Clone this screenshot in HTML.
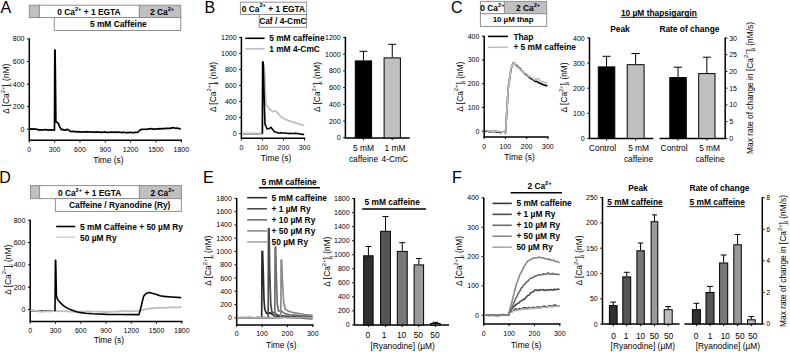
<!DOCTYPE html>
<html><head><meta charset="utf-8"><style>
html,body{margin:0;padding:0;background:#fff;}
svg{display:block;font-family:"Liberation Sans", sans-serif;}
</style></head><body>
<svg width="790" height="352" viewBox="0 0 790 352">
<text x="0.6" y="12.6" font-size="16">A</text>
<rect x="29.3" y="5.2" width="10.1" height="12.3" fill="#c0c0c0" stroke="#8f8f8f" stroke-width="1"/>
<rect x="39.4" y="5.2" width="100" height="12.3" fill="#fff" stroke="#8f8f8f" stroke-width="1"/>
<rect x="139.4" y="5.2" width="41.4" height="12.3" fill="#c0c0c0" stroke="#8f8f8f" stroke-width="1"/>
<rect x="54.3" y="17.5" width="126.5" height="13" fill="#fff" stroke="#8f8f8f" stroke-width="1"/>
<text x="88.9" y="14.9" font-size="8.4" font-weight="bold" text-anchor="middle">0 Ca<tspan font-size="5.71" dy="-4.37">2+</tspan><tspan dy="4.37"> + 1 EGTA</tspan></text>
<text x="162.1" y="14.9" font-size="8.4" font-weight="bold" text-anchor="middle">2 Ca<tspan font-size="5.71" dy="-4.37">2+</tspan></text>
<text x="118.3" y="27.3" font-size="8.4" font-weight="bold" text-anchor="middle">5 mM Caffeine</text>
<line x1="29.3" y1="38.4" x2="29.3" y2="140" stroke="#000" stroke-width="1.5"/>
<line x1="27.1" y1="38.9" x2="29.3" y2="38.9" stroke="#000" stroke-width="1"/>
<text x="24.5" y="41.4" font-size="7" text-anchor="end">800</text>
<line x1="27.1" y1="61.5" x2="29.3" y2="61.5" stroke="#000" stroke-width="1"/>
<text x="24.5" y="64" font-size="7" text-anchor="end">600</text>
<line x1="27.1" y1="84.2" x2="29.3" y2="84.2" stroke="#000" stroke-width="1"/>
<text x="24.5" y="86.7" font-size="7" text-anchor="end">400</text>
<line x1="27.1" y1="106.6" x2="29.3" y2="106.6" stroke="#000" stroke-width="1"/>
<text x="24.5" y="109.1" font-size="7" text-anchor="end">200</text>
<line x1="27.1" y1="129.2" x2="29.3" y2="129.2" stroke="#000" stroke-width="1"/>
<text x="24.5" y="131.7" font-size="7" text-anchor="end">0</text>
<line x1="28.6" y1="140.3" x2="182" y2="140.3" stroke="#000" stroke-width="1.5"/>
<line x1="29.3" y1="140.3" x2="29.3" y2="142.5" stroke="#000" stroke-width="1"/>
<text x="29.3" y="151.9" font-size="7" text-anchor="middle">0</text>
<line x1="54.63" y1="140.3" x2="54.63" y2="142.5" stroke="#000" stroke-width="1"/>
<text x="54.63" y="151.9" font-size="7" text-anchor="middle">300</text>
<line x1="79.96" y1="140.3" x2="79.96" y2="142.5" stroke="#000" stroke-width="1"/>
<text x="79.96" y="151.9" font-size="7" text-anchor="middle">600</text>
<line x1="105.29" y1="140.3" x2="105.29" y2="142.5" stroke="#000" stroke-width="1"/>
<text x="105.29" y="151.9" font-size="7" text-anchor="middle">900</text>
<line x1="130.62" y1="140.3" x2="130.62" y2="142.5" stroke="#000" stroke-width="1"/>
<text x="130.62" y="151.9" font-size="7" text-anchor="middle">1200</text>
<line x1="155.95" y1="140.3" x2="155.95" y2="142.5" stroke="#000" stroke-width="1"/>
<text x="155.95" y="151.9" font-size="7" text-anchor="middle">1500</text>
<line x1="181.28" y1="140.3" x2="181.28" y2="142.5" stroke="#000" stroke-width="1"/>
<text x="181.28" y="151.9" font-size="7" text-anchor="middle">1800</text>
<text x="108.4" y="162.6" font-size="8.4" text-anchor="middle">Time (s)</text>
<text x="9.5" y="88.7" font-size="8.4" text-anchor="middle" transform="rotate(-90 9.5 88.7)">Δ [Ca<tspan font-size="5.71" dy="-4.37">2+</tspan><tspan dy="4.37">]</tspan><tspan font-size="5.21" dy="2.1">i</tspan><tspan dy="-2.1"> (nM)</tspan></text>
<polyline points="29.8,129.11 30.87,128.96 31.93,129.14 33,128.79 34,129.12 35,129.13 36,129.08 37.13,129.57 38.27,129.6 39.4,130.07 40.52,129.82 41.64,129.78 42.76,129.88 43.88,130.02 45,129.61 46,129.68 47,129.9 48,130.08 49,129.92 50,129.85 51.08,130.19 52.15,129.77 53.22,130.23 54.3,130.1 54.5,130 54.8,50.1 55.1,50.1 55.9,122.07 57,122.29 58.1,123.07 59.5,126.39 60.5,128.34 61.5,129.61 63,129.45 64,129.88 65,130.12 66,129.93 67,129.34 68.9,130.04 70,131.22 71,131.55 72,131.44 73,131.41 74,131.61 75,131.57 76,131.52 77,131.86 78,131.84 79,131.61 80,131.84 81,131.84 82,132.07 83,132 84,131.75 85,132.19 86,131.69 87,131.89 88,132.11 89,131.77 90,131.99 91,131.73 92,132.12 93,132.19 94,132.08 95,132.28 96,131.95 97,132.19 98,132.14 99,132.14 100,132.07 101,132.32 102,132.4 103,132.13 104,132.26 105,131.91 106,132.31 107,132.29 108,132.52 109,132.43 110,132.12 111,132.2 112,132.38 113,132.01 114,132.29 115,132.13 116,132.11 117,132.09 118,132.53 119,132.16 120,132.25 121.04,132.35 122.08,132.65 123.12,132.18 124.16,132.42 125.21,132.49 126.25,132.7 127.29,132.67 128.33,132.71 129.37,132.37 130.41,132.47 131.45,132.44 132.49,132.77 133.54,132.83 134.58,132.36 135.62,132.38 136.66,132.43 137.7,132.44 138.75,131.24 139.8,129.95 140.84,129.62 141.88,129.32 142.92,129.43 143.96,129.26 145,129.24 146.12,129.39 147.24,129.15 148.36,128.97 149.48,128.95 150.6,128.91 151.64,128.54 152.69,129.06 153.73,129 154.78,129.07 155.82,129.03 156.87,128.8 157.91,128.82 158.96,128.65 160,128.98 161,128.61 162,128.58 163,128.64 164,128.58 165,128.65 166,128.45 167,128.39 168,128.45 169,128.39 170,128.52 171.07,127.95 172.13,128.09 173.2,127.57 175,128.29 176,128.2 177,128.11 178.23,128.45 179.47,128.64 180.7,129.2" fill="none" stroke="#000" stroke-width="1.7" stroke-linejoin="round"/>
<text x="204.4" y="12.6" font-size="16">B</text>
<rect x="240.4" y="2.2" width="66.2" height="12.3" fill="#fff" stroke="#8f8f8f" stroke-width="1"/>
<rect x="259.2" y="14.5" width="47.4" height="12.8" fill="#fff" stroke="#8f8f8f" stroke-width="1"/>
<text x="273.4" y="11.8" font-size="8.4" font-weight="bold" text-anchor="middle">0 Ca<tspan font-size="5.71" dy="-4.37">2+</tspan><tspan dy="4.37"> + 1 EGTA</tspan></text>
<text x="282.9" y="24.1" font-size="8.4" font-weight="bold" text-anchor="middle">Caf / 4-CmC</text>
<line x1="241.4" y1="36.9" x2="241.4" y2="138.2" stroke="#000" stroke-width="1.5"/>
<line x1="239.2" y1="37.4" x2="241.4" y2="37.4" stroke="#000" stroke-width="1"/>
<text x="236.6" y="39.9" font-size="7" text-anchor="end">1200</text>
<line x1="239.2" y1="53.4" x2="241.4" y2="53.4" stroke="#000" stroke-width="1"/>
<text x="236.6" y="55.9" font-size="7" text-anchor="end">1000</text>
<line x1="239.2" y1="69.4" x2="241.4" y2="69.4" stroke="#000" stroke-width="1"/>
<text x="236.6" y="71.9" font-size="7" text-anchor="end">800</text>
<line x1="239.2" y1="85.4" x2="241.4" y2="85.4" stroke="#000" stroke-width="1"/>
<text x="236.6" y="87.9" font-size="7" text-anchor="end">600</text>
<line x1="239.2" y1="101.4" x2="241.4" y2="101.4" stroke="#000" stroke-width="1"/>
<text x="236.6" y="103.9" font-size="7" text-anchor="end">400</text>
<line x1="239.2" y1="117.4" x2="241.4" y2="117.4" stroke="#000" stroke-width="1"/>
<text x="236.6" y="119.9" font-size="7" text-anchor="end">200</text>
<line x1="239.2" y1="133.4" x2="241.4" y2="133.4" stroke="#000" stroke-width="1"/>
<text x="236.6" y="135.9" font-size="7" text-anchor="end">0</text>
<line x1="240.7" y1="138.2" x2="305.2" y2="138.2" stroke="#000" stroke-width="1.5"/>
<line x1="241.4" y1="138.2" x2="241.4" y2="140.4" stroke="#000" stroke-width="1"/>
<text x="241.4" y="150" font-size="7" text-anchor="middle">0</text>
<line x1="262.43" y1="138.2" x2="262.43" y2="140.4" stroke="#000" stroke-width="1"/>
<text x="262.43" y="150" font-size="7" text-anchor="middle">100</text>
<line x1="283.46" y1="138.2" x2="283.46" y2="140.4" stroke="#000" stroke-width="1"/>
<text x="283.46" y="150" font-size="7" text-anchor="middle">200</text>
<line x1="304.49" y1="138.2" x2="304.49" y2="140.4" stroke="#000" stroke-width="1"/>
<text x="304.49" y="150" font-size="7" text-anchor="middle">300</text>
<text x="276" y="160.6" font-size="8.4" text-anchor="middle">Time (s)</text>
<text x="215.8" y="87.05" font-size="8.4" text-anchor="middle" transform="rotate(-90 215.8 87.05)">Δ [Ca<tspan font-size="5.71" dy="-4.37">2+</tspan><tspan dy="4.37">]</tspan><tspan font-size="5.21" dy="2.1">i</tspan><tspan dy="-2.1"> (nM)</tspan></text>
<line x1="245.3" y1="38.3" x2="264.6" y2="38.3" stroke="#000" stroke-width="1.6"/>
<line x1="245.3" y1="48.9" x2="264.6" y2="48.9" stroke="#bdbdbd" stroke-width="1.6"/>
<text x="269.2" y="41.2" font-size="8.4" font-weight="bold">5 mM caffeine</text>
<text x="269.2" y="51.8" font-size="8.4" font-weight="bold">1 mM 4-CmC</text>
<polyline points="241.8,133.7 262.4,133.7" fill="none" stroke="#000" stroke-width="1.6" stroke-linejoin="round"/>
<polyline points="241.8,133.74 242.83,133.81 243.85,133.61 244.88,133.63 245.9,133.48 246.93,133.5 247.95,133.61 248.97,133.59 250,133.83 251,133.56 252,133.51 253,133.88 254,133.71 255,133.56 256,133.72 257,133.51 258,133.71 259,133.89 260,133.85 261,133.78 262,133.7 262.3,133.7 262.9,66.5 264.2,65.5 265.2,88 265.9,104 267.8,107.1 270,109.5 272.9,111.6 274.5,111 276.1,111.2 278,113.5 281.9,117.6 288.2,120.6 297.2,123.4 304.2,125.7" fill="none" stroke="#bdbdbd" stroke-width="1.7" stroke-linejoin="round"/>
<polyline points="262.4,133.7 262.6,62 263.2,62 264.2,99.88 265,124.33 266.05,126.48 267.1,129.04 269,128.42 270,128.04 271,127.31 272.5,129.36 274.2,131.56 275.47,132.08 276.73,132.44 278,132.85 279,132.94 280,132.98 281,132.8 282,133.02 283,133.02 284,132.93 285,133.01 286,133.21 287,133.28 288.07,133.48 289.13,133.59 290.2,133.32 291.27,133.55 292.33,133.56 293.4,133.53 294.55,133.36 295.7,133.41 296.85,133.54 298,133.65 299.03,133.75 300.07,134.06 301.1,134.3 302.13,134.37 303.17,134.29 304.2,134.4" fill="none" stroke="#000" stroke-width="1.6" stroke-linejoin="round"/>
<line x1="345.4" y1="36.9" x2="345.4" y2="137.9" stroke="#000" stroke-width="1.5"/>
<line x1="343.2" y1="37.4" x2="345.4" y2="37.4" stroke="#000" stroke-width="1"/>
<text x="340.6" y="39.9" font-size="7" text-anchor="end">1200</text>
<line x1="343.2" y1="54.13" x2="345.4" y2="54.13" stroke="#000" stroke-width="1"/>
<text x="340.6" y="56.63" font-size="7" text-anchor="end">1000</text>
<line x1="343.2" y1="70.86" x2="345.4" y2="70.86" stroke="#000" stroke-width="1"/>
<text x="340.6" y="73.36" font-size="7" text-anchor="end">800</text>
<line x1="343.2" y1="87.59" x2="345.4" y2="87.59" stroke="#000" stroke-width="1"/>
<text x="340.6" y="90.09" font-size="7" text-anchor="end">600</text>
<line x1="343.2" y1="104.32" x2="345.4" y2="104.32" stroke="#000" stroke-width="1"/>
<text x="340.6" y="106.82" font-size="7" text-anchor="end">400</text>
<line x1="343.2" y1="121.05" x2="345.4" y2="121.05" stroke="#000" stroke-width="1"/>
<text x="340.6" y="123.55" font-size="7" text-anchor="end">200</text>
<line x1="343.2" y1="137.78" x2="345.4" y2="137.78" stroke="#000" stroke-width="1"/>
<text x="340.6" y="140.28" font-size="7" text-anchor="end">0</text>
<line x1="344.7" y1="137.9" x2="409.7" y2="137.9" stroke="#000" stroke-width="1.5"/>
<line x1="363.4" y1="137.9" x2="363.4" y2="140.1" stroke="#000" stroke-width="1"/>
<line x1="392.2" y1="137.9" x2="392.2" y2="140.1" stroke="#000" stroke-width="1"/>
<line x1="363.45" y1="51.3" x2="363.45" y2="60.4" stroke="#000" stroke-width="1"/>
<line x1="359.47" y1="51.3" x2="367.43" y2="51.3" stroke="#000" stroke-width="1"/>
<rect x="355.3" y="60.9" width="16.3" height="77" fill="#000" stroke="#000" stroke-width="1"/>
<line x1="392.25" y1="44.3" x2="392.25" y2="57.4" stroke="#000" stroke-width="1"/>
<line x1="388.27" y1="44.3" x2="396.23" y2="44.3" stroke="#000" stroke-width="1"/>
<rect x="384.1" y="57.9" width="16.3" height="80" fill="#c0c0c0" stroke="#000" stroke-width="1"/>
<text x="363.5" y="150.8" font-size="8.4" text-anchor="middle">5 mM</text>
<text x="363.5" y="161.9" font-size="8.4" text-anchor="middle">caffeine</text>
<text x="395" y="150.8" font-size="8.4" text-anchor="middle">1 mM</text>
<text x="394.8" y="161.9" font-size="8.4" text-anchor="middle">4-CmC</text>
<text x="319.9" y="86.9" font-size="8.4" text-anchor="middle" transform="rotate(-90 319.9 86.9)">Δ [Ca<tspan font-size="5.71" dy="-4.37">2+</tspan><tspan dy="4.37">]</tspan><tspan font-size="5.21" dy="2.1">i</tspan><tspan dy="-2.1"> (nM)</tspan></text>
<text x="451" y="12.9" font-size="16">C</text>
<rect x="480.4" y="1.4" width="24" height="12.3" fill="#fff" stroke="#8f8f8f" stroke-width="1"/>
<text x="492.4" y="10.9" font-size="8.4" font-weight="bold" text-anchor="middle">0 Ca<tspan font-size="5.71" dy="-4.37">2+</tspan></text>
<rect x="504.4" y="1.4" width="42.3" height="12.3" fill="#c0c0c0" stroke="#8f8f8f" stroke-width="1"/>
<rect x="480.4" y="13.7" width="66.3" height="12.7" fill="#fff" stroke="#8f8f8f" stroke-width="1"/>
<text x="528.1" y="10.9" font-size="8.4" font-weight="bold" text-anchor="middle">2 Ca<tspan font-size="5.71" dy="-4.37">2+</tspan></text>
<text x="513.1" y="22.4" font-size="7.9" font-weight="bold" text-anchor="middle">10 µM thap</text>
<line x1="484.2" y1="35.7" x2="484.2" y2="136.9" stroke="#000" stroke-width="1.5"/>
<line x1="482" y1="36.2" x2="484.2" y2="36.2" stroke="#000" stroke-width="1"/>
<text x="479.4" y="38.7" font-size="7" text-anchor="end">400</text>
<line x1="482" y1="59.93" x2="484.2" y2="59.93" stroke="#000" stroke-width="1"/>
<text x="479.4" y="62.43" font-size="7" text-anchor="end">300</text>
<line x1="482" y1="83.66" x2="484.2" y2="83.66" stroke="#000" stroke-width="1"/>
<text x="479.4" y="86.16" font-size="7" text-anchor="end">200</text>
<line x1="482" y1="107.39" x2="484.2" y2="107.39" stroke="#000" stroke-width="1"/>
<text x="479.4" y="109.89" font-size="7" text-anchor="end">100</text>
<line x1="482" y1="131.12" x2="484.2" y2="131.12" stroke="#000" stroke-width="1"/>
<text x="479.4" y="133.62" font-size="7" text-anchor="end">0</text>
<line x1="483.5" y1="136.9" x2="548.6" y2="136.9" stroke="#000" stroke-width="1.5"/>
<line x1="484.2" y1="136.9" x2="484.2" y2="139.1" stroke="#000" stroke-width="1"/>
<text x="484.2" y="148.8" font-size="7" text-anchor="middle">0</text>
<line x1="505.43" y1="136.9" x2="505.43" y2="139.1" stroke="#000" stroke-width="1"/>
<text x="505.43" y="148.8" font-size="7" text-anchor="middle">100</text>
<line x1="526.66" y1="136.9" x2="526.66" y2="139.1" stroke="#000" stroke-width="1"/>
<text x="526.66" y="148.8" font-size="7" text-anchor="middle">200</text>
<line x1="547.89" y1="136.9" x2="547.89" y2="139.1" stroke="#000" stroke-width="1"/>
<text x="547.89" y="148.8" font-size="7" text-anchor="middle">300</text>
<text x="519.5" y="160.4" font-size="8.4" text-anchor="middle">Time (s)</text>
<text x="462.7" y="86.6" font-size="8.4" text-anchor="middle" transform="rotate(-90 462.7 86.6)">Δ [Ca<tspan font-size="5.71" dy="-4.37">2+</tspan><tspan dy="4.37">]</tspan><tspan font-size="5.21" dy="2.1">i</tspan><tspan dy="-2.1"> (nM)</tspan></text>
<line x1="488.1" y1="36.4" x2="507.9" y2="36.4" stroke="#000" stroke-width="1.6"/>
<line x1="488.1" y1="47.3" x2="507.9" y2="47.3" stroke="#bdbdbd" stroke-width="1.6"/>
<text x="513.4" y="39.6" font-size="8.4" font-weight="bold">Thap</text>
<text x="513.4" y="50.3" font-size="8.4" font-weight="bold">+ 5 mM caffeine</text>
<polyline points="485,131.15 486,131.35 487,130.68 488,131.31 489,131.61 490,131.53 491,131.55 492,131.33 493,131.08 494,131.74 495,131.33 496.06,131.92 497.11,132.22 498.17,131.76 499.22,131.89 500.28,132.56 501.33,132.46 502.39,132.03 503.44,132.1 504.5,132.25 505.5,132.8 506.85,110.91 508.2,88.45 509.6,78.88 511,68.78 512.25,65.66 513.5,62.55 514.75,64.15 516,65.13 517.05,65.76 518.1,67.47 519.15,67.9 520.2,68.53 521.4,70.18 522.6,70.93 523.8,72.62 525,73.83 526.23,74.34 527.45,75.5 528.67,76.67 529.9,77.74 530.92,78.69 531.94,78.96 532.96,79.72 533.98,80.03 535,81.41 536.15,81.3 537.3,81.86 538.45,82.43 539.6,83.2 540.73,83.29 541.87,84.35 543,84.5 544.08,84.96 545.15,85.37 546.22,85.29 547.3,86.2" fill="none" stroke="#000" stroke-width="1.7" stroke-linejoin="round"/>
<polyline points="485,130.74 486,130.52 487,130.38 488,131.22 489,130.63 490,130.97 491,131.27 492,131.14 493,130.95 494,131.18 495,131.26 496.06,131.6 497.11,131.03 498.17,131.59 499.22,131.39 500.28,131.53 501.33,132.14 502.39,131.99 503.44,132.15 504.5,132.46 505.5,132.41 506.85,110.24 508.2,88.71 509.6,78.31 511,68.01 512.25,65.64 513.5,62.85 514.75,64.38 516,65.78 517.05,66.99 518.1,67.5 519.15,68.43 520.2,69.24 521.4,69.61 522.6,70.96 523.8,72.39 525,73.34 526.23,73.69 527.45,74.72 528.67,76.09 529.9,76.77 530.92,77.4 531.94,77.69 532.96,78.75 533.98,79.32 535,79.9 536.1,78.75 537.2,78.92 538.3,78.46 539.6,80.24 540.73,81.45 541.87,82 543,81.72 544.08,82.75 545.15,82.5 546.22,82.89 547.3,83.2" fill="none" stroke="#bdbdbd" stroke-width="1.7" stroke-linejoin="round"/>
<text x="658.9" y="15.9" font-size="8.4" font-weight="bold" text-anchor="middle">10 µM thapsigargin</text>
<line x1="620.6" y1="17.3" x2="697.2" y2="17.3" stroke="#000" stroke-width="0.9"/>
<text x="620" y="31.5" font-size="8.4" font-weight="bold" text-anchor="middle">Peak</text>
<text x="689.4" y="31.8" font-size="8.4" font-weight="bold" text-anchor="middle">Rate of change</text>
<line x1="589.5" y1="37.5" x2="589.5" y2="138.4" stroke="#000" stroke-width="1.5"/>
<line x1="587.3" y1="38" x2="589.5" y2="38" stroke="#000" stroke-width="1"/>
<text x="584.7" y="40.5" font-size="7" text-anchor="end">400</text>
<line x1="587.3" y1="63.1" x2="589.5" y2="63.1" stroke="#000" stroke-width="1"/>
<text x="584.7" y="65.6" font-size="7" text-anchor="end">300</text>
<line x1="587.3" y1="88.2" x2="589.5" y2="88.2" stroke="#000" stroke-width="1"/>
<text x="584.7" y="90.7" font-size="7" text-anchor="end">200</text>
<line x1="587.3" y1="113.3" x2="589.5" y2="113.3" stroke="#000" stroke-width="1"/>
<text x="584.7" y="115.8" font-size="7" text-anchor="end">100</text>
<line x1="587.3" y1="138.4" x2="589.5" y2="138.4" stroke="#000" stroke-width="1"/>
<text x="584.7" y="140.9" font-size="7" text-anchor="end">0</text>
<line x1="588.8" y1="138.4" x2="653.3" y2="138.4" stroke="#000" stroke-width="1.5"/>
<line x1="606.5" y1="138.4" x2="606.5" y2="140.6" stroke="#000" stroke-width="1"/>
<line x1="635.6" y1="138.4" x2="635.6" y2="140.6" stroke="#000" stroke-width="1"/>
<line x1="606.55" y1="56.3" x2="606.55" y2="66.4" stroke="#000" stroke-width="1"/>
<line x1="602.52" y1="56.3" x2="610.57" y2="56.3" stroke="#000" stroke-width="1"/>
<rect x="598.3" y="66.9" width="16.5" height="71.5" fill="#000" stroke="#000" stroke-width="1"/>
<line x1="635.65" y1="53.5" x2="635.65" y2="64.2" stroke="#000" stroke-width="1"/>
<line x1="631.53" y1="53.5" x2="639.77" y2="53.5" stroke="#000" stroke-width="1"/>
<rect x="627.2" y="64.7" width="16.9" height="73.7" fill="#c0c0c0" stroke="#000" stroke-width="1"/>
<text x="566.9" y="87.4" font-size="8.4" text-anchor="middle" transform="rotate(-90 566.9 87.4)">Δ [Ca<tspan font-size="5.71" dy="-4.37">2+</tspan><tspan dy="4.37">]</tspan><tspan font-size="5.21" dy="2.1">i</tspan><tspan dy="-2.1"> (nM)</tspan></text>
<text x="602.5" y="151.1" font-size="8.4" text-anchor="middle">Control</text>
<text x="638.6" y="151.1" font-size="8.4" text-anchor="middle">5 mM</text>
<text x="638.5" y="162.3" font-size="8.4" text-anchor="middle">caffeine</text>
<line x1="659.6" y1="138.4" x2="725.9" y2="138.4" stroke="#000" stroke-width="1.5"/>
<line x1="678" y1="138.4" x2="678" y2="140.6" stroke="#000" stroke-width="1"/>
<line x1="706.9" y1="138.4" x2="706.9" y2="140.6" stroke="#000" stroke-width="1"/>
<line x1="725.2" y1="37.5" x2="725.2" y2="138.4" stroke="#000" stroke-width="1.5"/>
<line x1="725.2" y1="38" x2="727.4" y2="38" stroke="#000" stroke-width="1"/>
<text x="729.2" y="40.5" font-size="7">30</text>
<line x1="725.2" y1="54.73" x2="727.4" y2="54.73" stroke="#000" stroke-width="1"/>
<text x="729.2" y="57.23" font-size="7">25</text>
<line x1="725.2" y1="71.46" x2="727.4" y2="71.46" stroke="#000" stroke-width="1"/>
<text x="729.2" y="73.96" font-size="7">20</text>
<line x1="725.2" y1="88.19" x2="727.4" y2="88.19" stroke="#000" stroke-width="1"/>
<text x="729.2" y="90.69" font-size="7">15</text>
<line x1="725.2" y1="104.92" x2="727.4" y2="104.92" stroke="#000" stroke-width="1"/>
<text x="729.2" y="107.42" font-size="7">10</text>
<line x1="725.2" y1="121.65" x2="727.4" y2="121.65" stroke="#000" stroke-width="1"/>
<text x="729.2" y="124.15" font-size="7">5</text>
<line x1="725.2" y1="138.38" x2="727.4" y2="138.38" stroke="#000" stroke-width="1"/>
<text x="729.2" y="140.88" font-size="7">0</text>
<line x1="678.05" y1="67.2" x2="678.05" y2="77.1" stroke="#000" stroke-width="1"/>
<line x1="674.02" y1="67.2" x2="682.07" y2="67.2" stroke="#000" stroke-width="1"/>
<rect x="669.8" y="77.6" width="16.5" height="60.8" fill="#000" stroke="#000" stroke-width="1"/>
<line x1="706.85" y1="57.2" x2="706.85" y2="73.1" stroke="#000" stroke-width="1"/>
<line x1="702.87" y1="57.2" x2="710.83" y2="57.2" stroke="#000" stroke-width="1"/>
<rect x="698.7" y="73.6" width="16.3" height="64.8" fill="#c0c0c0" stroke="#000" stroke-width="1"/>
<text x="674.1" y="151.1" font-size="8.4" text-anchor="middle">Control</text>
<text x="709.6" y="151.1" font-size="8.4" text-anchor="middle">5 mM</text>
<text x="710" y="162.3" font-size="8.4" text-anchor="middle">caffeine</text>
<text x="752.8" y="87.95" font-size="8.4" text-anchor="middle" transform="rotate(-90 752.8 87.95)">Max rate of change in [Ca<tspan font-size="5.71" dy="-4.37">2+</tspan><tspan dy="4.37">]</tspan><tspan font-size="5.21" dy="2.1">i</tspan><tspan dy="-2.1"> (nM/s)</tspan></text>
<text x="-0.8" y="183.4" font-size="16">D</text>
<rect x="30.5" y="185.6" width="9.1" height="13" fill="#c0c0c0" stroke="#8f8f8f" stroke-width="1"/>
<rect x="39.6" y="185.6" width="99.8" height="13" fill="#fff" stroke="#8f8f8f" stroke-width="1"/>
<rect x="139.4" y="185.6" width="41.9" height="13" fill="#c0c0c0" stroke="#8f8f8f" stroke-width="1"/>
<rect x="55.4" y="198.6" width="125.9" height="12.8" fill="#fff" stroke="#8f8f8f" stroke-width="1"/>
<text x="89.6" y="196.2" font-size="8.4" font-weight="bold" text-anchor="middle">0 Ca<tspan font-size="5.71" dy="-4.37">2+</tspan><tspan dy="4.37"> + 1 EGTA</tspan></text>
<text x="162.6" y="196.2" font-size="8.4" font-weight="bold" text-anchor="middle">2 Ca<tspan font-size="5.71" dy="-4.37">2+</tspan></text>
<text x="119.7" y="207.9" font-size="8.4" font-weight="bold" text-anchor="middle">Caffeine / Ryanodine (Ry)</text>
<line x1="30.2" y1="219.7" x2="30.2" y2="321.4" stroke="#000" stroke-width="1.5"/>
<line x1="28" y1="220.2" x2="30.2" y2="220.2" stroke="#000" stroke-width="1"/>
<text x="25.4" y="222.7" font-size="7" text-anchor="end">800</text>
<line x1="28" y1="242.55" x2="30.2" y2="242.55" stroke="#000" stroke-width="1"/>
<text x="25.4" y="245.05" font-size="7" text-anchor="end">600</text>
<line x1="28" y1="264.9" x2="30.2" y2="264.9" stroke="#000" stroke-width="1"/>
<text x="25.4" y="267.4" font-size="7" text-anchor="end">400</text>
<line x1="28" y1="287.25" x2="30.2" y2="287.25" stroke="#000" stroke-width="1"/>
<text x="25.4" y="289.75" font-size="7" text-anchor="end">200</text>
<line x1="28" y1="309.6" x2="30.2" y2="309.6" stroke="#000" stroke-width="1"/>
<text x="25.4" y="312.1" font-size="7" text-anchor="end">0</text>
<line x1="29.5" y1="321.4" x2="182.5" y2="321.4" stroke="#000" stroke-width="1.5"/>
<line x1="30.2" y1="321.4" x2="30.2" y2="323.6" stroke="#000" stroke-width="1"/>
<text x="30.2" y="332.8" font-size="7" text-anchor="middle">0</text>
<line x1="55.47" y1="321.4" x2="55.47" y2="323.6" stroke="#000" stroke-width="1"/>
<text x="55.47" y="332.8" font-size="7" text-anchor="middle">300</text>
<line x1="80.74" y1="321.4" x2="80.74" y2="323.6" stroke="#000" stroke-width="1"/>
<text x="80.74" y="332.8" font-size="7" text-anchor="middle">600</text>
<line x1="106.01" y1="321.4" x2="106.01" y2="323.6" stroke="#000" stroke-width="1"/>
<text x="106.01" y="332.8" font-size="7" text-anchor="middle">900</text>
<line x1="131.28" y1="321.4" x2="131.28" y2="323.6" stroke="#000" stroke-width="1"/>
<text x="131.28" y="332.8" font-size="7" text-anchor="middle">1200</text>
<line x1="156.55" y1="321.4" x2="156.55" y2="323.6" stroke="#000" stroke-width="1"/>
<text x="156.55" y="332.8" font-size="7" text-anchor="middle">1500</text>
<line x1="181.82" y1="321.4" x2="181.82" y2="323.6" stroke="#000" stroke-width="1"/>
<text x="181.82" y="332.8" font-size="7" text-anchor="middle">1800</text>
<text x="108.9" y="343.1" font-size="8.4" text-anchor="middle">Time (s)</text>
<text x="10.7" y="269.8" font-size="8.4" text-anchor="middle" transform="rotate(-90 10.7 269.8)">Δ [Ca<tspan font-size="5.71" dy="-4.37">2+</tspan><tspan dy="4.37">]</tspan><tspan font-size="5.21" dy="2.1">i</tspan><tspan dy="-2.1"> (nM)</tspan></text>
<line x1="56.2" y1="226.5" x2="75.2" y2="226.5" stroke="#000" stroke-width="1.6"/>
<line x1="56.2" y1="237.2" x2="75.2" y2="237.2" stroke="#c8c8c8" stroke-width="1.3"/>
<text x="80.1" y="229.5" font-size="8.4" font-weight="bold">5 mM Caffeine + 50 µM Ry</text>
<text x="80.1" y="240.7" font-size="8.4" font-weight="bold">50 µM Ry</text>
<polyline points="30.5,310.5 40,311 50,311.2 55,311.2" fill="none" stroke="#000" stroke-width="1.7" stroke-linejoin="round"/>
<polyline points="30.5,309.99 31.62,310.1 32.75,309.9 33.88,310.26 35,310.51 36.16,310.66 37.32,310.84 38.48,311.17 39.64,311.67 40.8,311.51 41.82,311.77 42.84,311.63 43.87,311.31 44.89,311.43 45.91,311.54 46.93,311.41 47.96,311.07 48.98,311.56 50,311.37 51,311.46 52,310.92 53,311 54,310.84 55,311.27 56,310.94 57,310.84 58,310.99 59,311.27 60,311.19 61.06,310.91 62.13,310.9 63.19,311.42 64.26,311.27 65.32,311.41 66.39,311.1 67.45,311.13 68.51,311.57 69.58,311.47 70.64,311.31 71.71,311.89 72.77,311.77 73.84,311.92 74.9,311.55 75.91,312 76.91,311.51 77.92,311.98 78.93,311.72 79.93,311.64 80.94,311.75 81.95,311.96 82.95,311.55 83.96,311.46 84.97,311.68 85.97,311.5 86.98,311.41 87.99,311.42 88.99,311.34 90,311.42 91.06,311.51 92.11,311.52 93.17,311.81 94.22,311.55 95.28,311.69 96.34,311.52 97.39,311.64 98.45,311.46 99.51,311.62 100.56,311.5 101.62,311.95 102.68,311.86 103.73,311.66 104.79,311.85 105.84,312.14 106.9,311.66 107.91,312.05 108.92,311.77 109.92,311.76 110.93,311.92 111.94,311.61 112.95,311.63 113.95,311.69 114.96,311.82 115.97,311.39 116.98,311.64 117.98,311.52 118.99,311.43 120,311.24 121,311.2 122,311.01 123,311.05 124,311 125,311.39 126,311.09 127,311.02 128,310.97 129,311.41 130,311.42 131,311.29 132,311.04 133,311.01 134,311.03 135,311.12 136,310.93 137,311.09 138,310.97 139,311.38 140.12,311.03 141.25,310.43 142.38,309.9 143.5,309.98 144.6,309.4 145.7,309.24 146.8,308.84 147.9,308.89 149,308.76 150.1,308.59 151.2,308.22 152.26,308.34 153.32,307.99 154.38,308.08 155.43,307.92 156.49,308.05 157.55,307.78 158.61,307.71 159.67,307.82 160.72,307.71 161.78,307.87 162.84,307.78 163.9,307.85 164.92,307.76 165.94,307.76 166.95,307.82 167.97,307.49 168.99,307.42 170.01,307.78 171.02,307.24 172.04,307.55 173.06,307.47 174.08,307.07 175.09,307.51 176.11,307.51 177.13,307.32 178.15,307.35 179.16,307.36 180.18,306.92 181.2,307.1" fill="none" stroke="#c0c0c0" stroke-width="1.8" stroke-linejoin="round"/>
<polyline points="55,311.2 55.4,260.2 55.7,260.2 56.4,295.8 57.5,299.3 60,302.4 63.4,305.6 66.4,307.6 70.5,309.6 75.8,311.5 79.2,312.4 85.6,313.2 92,313.8 98,314 106.9,314.4 120,314.5 139,314.6 140.9,307.5 143.5,296.6 146,293.4 149.2,292.5 152,293.2 155,294.1 160,295.7 163.9,296.4 171.6,297 181.2,297.6" fill="none" stroke="#000" stroke-width="1.6" stroke-linejoin="round"/>
<text x="203.1" y="183.2" font-size="16">E</text>
<text x="289.1" y="184.7" font-size="8.4" font-weight="bold" text-anchor="middle">5 mM caffeine</text>
<line x1="258.9" y1="187.7" x2="319.9" y2="187.7" stroke="#000" stroke-width="1.5"/>
<line x1="236.7" y1="197.9" x2="236.7" y2="324.9" stroke="#000" stroke-width="1.5"/>
<line x1="234.5" y1="198.4" x2="236.7" y2="198.4" stroke="#000" stroke-width="1"/>
<text x="231.9" y="200.9" font-size="7" text-anchor="end">1800</text>
<line x1="234.5" y1="211.67" x2="236.7" y2="211.67" stroke="#000" stroke-width="1"/>
<text x="231.9" y="214.17" font-size="7" text-anchor="end">1600</text>
<line x1="234.5" y1="224.94" x2="236.7" y2="224.94" stroke="#000" stroke-width="1"/>
<text x="231.9" y="227.44" font-size="7" text-anchor="end">1400</text>
<line x1="234.5" y1="238.21" x2="236.7" y2="238.21" stroke="#000" stroke-width="1"/>
<text x="231.9" y="240.71" font-size="7" text-anchor="end">1200</text>
<line x1="234.5" y1="251.48" x2="236.7" y2="251.48" stroke="#000" stroke-width="1"/>
<text x="231.9" y="253.98" font-size="7" text-anchor="end">1000</text>
<line x1="234.5" y1="264.75" x2="236.7" y2="264.75" stroke="#000" stroke-width="1"/>
<text x="231.9" y="267.25" font-size="7" text-anchor="end">800</text>
<line x1="234.5" y1="278.02" x2="236.7" y2="278.02" stroke="#000" stroke-width="1"/>
<text x="231.9" y="280.52" font-size="7" text-anchor="end">600</text>
<line x1="234.5" y1="291.29" x2="236.7" y2="291.29" stroke="#000" stroke-width="1"/>
<text x="231.9" y="293.79" font-size="7" text-anchor="end">400</text>
<line x1="234.5" y1="304.56" x2="236.7" y2="304.56" stroke="#000" stroke-width="1"/>
<text x="231.9" y="307.06" font-size="7" text-anchor="end">200</text>
<line x1="234.5" y1="317.83" x2="236.7" y2="317.83" stroke="#000" stroke-width="1"/>
<text x="231.9" y="320.33" font-size="7" text-anchor="end">0</text>
<line x1="236" y1="324.9" x2="313.5" y2="324.9" stroke="#000" stroke-width="1.5"/>
<line x1="236.7" y1="324.9" x2="236.7" y2="327.1" stroke="#000" stroke-width="1"/>
<text x="236.7" y="336.2" font-size="7" text-anchor="middle">0</text>
<line x1="262.07" y1="324.9" x2="262.07" y2="327.1" stroke="#000" stroke-width="1"/>
<text x="262.07" y="336.2" font-size="7" text-anchor="middle">100</text>
<line x1="287.44" y1="324.9" x2="287.44" y2="327.1" stroke="#000" stroke-width="1"/>
<text x="287.44" y="336.2" font-size="7" text-anchor="middle">200</text>
<line x1="312.81" y1="324.9" x2="312.81" y2="327.1" stroke="#000" stroke-width="1"/>
<text x="312.81" y="336.2" font-size="7" text-anchor="middle">300</text>
<text x="281.3" y="347.9" font-size="8.4" text-anchor="middle">Time (s)</text>
<text x="211.5" y="260.7" font-size="8.4" text-anchor="middle" transform="rotate(-90 211.5 260.7)">Δ [Ca<tspan font-size="5.71" dy="-4.37">2+</tspan><tspan dy="4.37">]</tspan><tspan font-size="5.21" dy="2.1">i</tspan><tspan dy="-2.1"> (nM)</tspan></text>
<line x1="247.2" y1="197.7" x2="267" y2="197.7" stroke="#2a2a2a" stroke-width="1.6"/>
<text x="271.6" y="200.6" font-size="8.4" font-weight="bold">5 mM caffeine</text>
<line x1="247.2" y1="208.77" x2="267" y2="208.77" stroke="#4a4a4a" stroke-width="1.6"/>
<text x="271.6" y="211.67" font-size="8.4" font-weight="bold">+ 1 µM Ry</text>
<line x1="247.2" y1="219.84" x2="267" y2="219.84" stroke="#707070" stroke-width="1.6"/>
<text x="271.6" y="222.74" font-size="8.4" font-weight="bold">+ 10 µM Ry</text>
<line x1="247.2" y1="230.91" x2="267" y2="230.91" stroke="#8c8c8c" stroke-width="1.6"/>
<text x="271.6" y="233.81" font-size="8.4" font-weight="bold">+ 50 µM Ry</text>
<line x1="247.2" y1="241.98" x2="267" y2="241.98" stroke="#a4a4a4" stroke-width="1.6"/>
<text x="271.6" y="244.88" font-size="8.4" font-weight="bold">50 µM Ry</text>
<polyline points="237.5,317.8 238,317.81 239.03,317.8 240.06,317.9 241.09,317.89 242.12,317.9 243.15,317.83 244.18,317.92 245.21,317.85 246.24,317.86 247.27,317.72 248.3,317.66 249.33,317.69 250.37,317.76 251.4,317.68 252.43,317.9 253.46,317.82 254.49,317.84 255.52,317.84 256.55,317.85 257.58,317.8 258.61,317.65 259.64,317.89 260.67,317.87 261.7,317.8 262,251.4 262.6,251.4 263.2,270 264,300 264.8,309.5 266.5,313.4 268.2,313.2 269.9,312.8 271.5,313.8 273.8,315.6 280,316.8 290,317.3 300,317.9 306,318.3 312.5,318.6" fill="none" stroke="#2a2a2a" stroke-width="1.7" stroke-linejoin="round"/>
<polyline points="237.5,317.8 238,317.8 239.01,317.81 240.01,317.85 241.02,317.67 242.03,317.87 243.03,317.73 244.04,317.67 245.05,317.73 246.05,317.87 247.06,317.71 248.07,317.87 249.07,317.94 250.08,317.8 251.09,317.76 252.09,317.79 253.1,317.86 254.11,317.88 255.11,317.84 256.12,317.84 257.13,317.67 258.13,317.69 259.14,317.73 260.15,317.87 261.15,317.74 262.16,317.82 263.17,317.65 264.17,317.67 265.18,317.73 266.19,317.85 267.19,317.86 268.2,317.8 268.5,228.6 269.1,228.6 269.7,270 270.8,305 272.1,313 274.2,312.4 276.8,314.7 280,315.6 290,316.5 312.5,316.8" fill="none" stroke="#4a4a4a" stroke-width="1.7" stroke-linejoin="round"/>
<polyline points="237.5,317.8 238,317.85 239.02,317.74 240.04,317.8 241.07,317.79 242.09,317.79 243.11,317.69 244.13,317.92 245.16,317.71 246.18,317.94 247.2,317.93 248.22,317.66 249.24,317.79 250.27,317.9 251.29,317.94 252.31,317.78 253.33,317.73 254.36,317.71 255.38,317.93 256.4,317.71 257.42,317.82 258.44,317.69 259.47,317.81 260.49,317.94 261.51,317.69 262.53,317.9 263.56,317.8 264.58,317.92 265.6,317.86 266.62,317.72 267.64,317.92 268.67,317.8 269.69,317.66 270.71,317.65 271.73,317.8 272.76,317.79 273.78,317.74 274.8,317.8 275.1,247.2 275.7,247.2 276.3,275 277.2,303 278.5,311.3 280.6,310.5 282.5,312 285,313.6 290,314.8 300,315.6 312.5,316" fill="none" stroke="#707070" stroke-width="1.7" stroke-linejoin="round"/>
<polyline points="237.5,317.8 238,317.69 239.02,317.75 240.04,317.74 241.06,317.9 242.08,317.65 243.1,317.88 244.11,317.9 245.13,317.69 246.15,317.93 247.17,317.86 248.19,317.92 249.21,317.74 250.23,317.76 251.25,317.77 252.27,317.95 253.29,317.83 254.3,317.76 255.32,317.78 256.34,317.73 257.36,317.66 258.38,317.68 259.4,317.9 260.42,317.74 261.44,317.93 262.46,317.72 263.48,317.73 264.5,317.8 265.51,317.71 266.53,317.76 267.55,317.94 268.57,317.92 269.59,317.89 270.61,317.84 271.63,317.92 272.65,317.93 273.67,317.81 274.69,317.87 275.7,317.66 276.72,317.87 277.74,317.79 278.76,317.88 279.78,317.84 280.8,317.8 281.1,260.1 281.7,260.1 282.4,280 283.6,302 285.3,309.2 287.8,310.9 292,312.3 298,313.4 305,314.5 312.5,315.3" fill="none" stroke="#8c8c8c" stroke-width="1.7" stroke-linejoin="round"/>
<polyline points="237.5,317.71 238.5,317.62 239.5,317.97 240.5,317.65 241.5,317.79 242.5,317.74 243.5,317.72 244.5,317.9 245.5,317.99 246.5,317.7 247.5,317.86 248.5,317.72 249.5,317.82 250.5,317.76 251.5,317.67 252.5,317.66 253.5,317.68 254.5,317.96 255.5,317.8 256.5,317.69 257.5,317.96 258.5,318 259.5,317.78 260.5,317.66 261.5,317.68 262.5,317.64 263.5,317.74 264.5,317.64 265.5,317.7 266.5,317.7 267.5,317.83 268.5,317.95 269.5,317.9 270.5,317.77 271.5,317.77 272.5,317.81 273.5,317.75 274.5,317.74 275.5,317.62 276.5,317.71 277.5,317.99 278.5,317.65 279.5,317.8 280.5,317.85 281.5,317.95 282.5,317.69 283.5,317.71 284.5,317.7 285.5,317.76 286.5,317.78 287.5,317.98 288.5,317.94 289.5,317.95 290.5,317.61 291.5,317.61 292.5,317.88 293.5,317.96 294.5,317.79 295.5,317.83 296.5,317.6 297.5,317.76 298.5,317.97 299.5,317.93 300.5,317.94 301.5,317.99 302.5,317.7 303.5,317.64 304.5,317.66 305.5,317.81 306.5,317.87 307.5,317.98 308.5,317.89 309.5,317.86 310.5,317.91 311.5,317.78 312.5,317.8" fill="none" stroke="#a8a8a8" stroke-width="1.7" stroke-linejoin="round"/>
<text x="392.2" y="205" font-size="8.4" font-weight="bold" text-anchor="middle">5 mM caffeine</text>
<line x1="362.2" y1="208.9" x2="426.1" y2="208.9" stroke="#000" stroke-width="1.5"/>
<line x1="354.4" y1="198.1" x2="354.4" y2="324.9" stroke="#000" stroke-width="1.5"/>
<line x1="352.2" y1="198.6" x2="354.4" y2="198.6" stroke="#000" stroke-width="1"/>
<text x="349.6" y="201.1" font-size="7" text-anchor="end">1800</text>
<line x1="352.2" y1="212.63" x2="354.4" y2="212.63" stroke="#000" stroke-width="1"/>
<text x="349.6" y="215.13" font-size="7" text-anchor="end">1600</text>
<line x1="352.2" y1="226.66" x2="354.4" y2="226.66" stroke="#000" stroke-width="1"/>
<text x="349.6" y="229.16" font-size="7" text-anchor="end">1400</text>
<line x1="352.2" y1="240.69" x2="354.4" y2="240.69" stroke="#000" stroke-width="1"/>
<text x="349.6" y="243.19" font-size="7" text-anchor="end">1200</text>
<line x1="352.2" y1="254.72" x2="354.4" y2="254.72" stroke="#000" stroke-width="1"/>
<text x="349.6" y="257.22" font-size="7" text-anchor="end">1000</text>
<line x1="352.2" y1="268.75" x2="354.4" y2="268.75" stroke="#000" stroke-width="1"/>
<text x="349.6" y="271.25" font-size="7" text-anchor="end">800</text>
<line x1="352.2" y1="282.78" x2="354.4" y2="282.78" stroke="#000" stroke-width="1"/>
<text x="349.6" y="285.28" font-size="7" text-anchor="end">600</text>
<line x1="352.2" y1="296.81" x2="354.4" y2="296.81" stroke="#000" stroke-width="1"/>
<text x="349.6" y="299.31" font-size="7" text-anchor="end">400</text>
<line x1="352.2" y1="310.84" x2="354.4" y2="310.84" stroke="#000" stroke-width="1"/>
<text x="349.6" y="313.34" font-size="7" text-anchor="end">200</text>
<line x1="352.2" y1="324.87" x2="354.4" y2="324.87" stroke="#000" stroke-width="1"/>
<text x="349.6" y="327.37" font-size="7" text-anchor="end">0</text>
<line x1="353.7" y1="324.9" x2="449" y2="324.9" stroke="#000" stroke-width="1.5"/>
<line x1="368.4" y1="324.9" x2="368.4" y2="327.1" stroke="#000" stroke-width="1"/>
<line x1="385.5" y1="324.9" x2="385.5" y2="327.1" stroke="#000" stroke-width="1"/>
<line x1="402.25" y1="324.9" x2="402.25" y2="327.1" stroke="#000" stroke-width="1"/>
<line x1="418.85" y1="324.9" x2="418.85" y2="327.1" stroke="#000" stroke-width="1"/>
<line x1="435.4" y1="324.9" x2="435.4" y2="327.1" stroke="#000" stroke-width="1"/>
<line x1="368.4" y1="246.5" x2="368.4" y2="255.3" stroke="#000" stroke-width="1"/>
<line x1="365.54" y1="246.5" x2="371.26" y2="246.5" stroke="#000" stroke-width="1"/>
<rect x="363.7" y="255.8" width="9.4" height="69.1" fill="#303030" stroke="#000" stroke-width="1"/>
<line x1="385.5" y1="216.5" x2="385.5" y2="230.8" stroke="#000" stroke-width="1"/>
<line x1="382.53" y1="216.5" x2="388.47" y2="216.5" stroke="#000" stroke-width="1"/>
<rect x="380.6" y="231.3" width="9.8" height="93.6" fill="#555555" stroke="#000" stroke-width="1"/>
<line x1="402.25" y1="242.7" x2="402.25" y2="250.9" stroke="#000" stroke-width="1"/>
<line x1="399.25" y1="242.7" x2="405.25" y2="242.7" stroke="#000" stroke-width="1"/>
<rect x="397.3" y="251.4" width="9.9" height="73.5" fill="#787878" stroke="#000" stroke-width="1"/>
<line x1="418.85" y1="258.5" x2="418.85" y2="264.4" stroke="#000" stroke-width="1"/>
<line x1="415.96" y1="258.5" x2="421.74" y2="258.5" stroke="#000" stroke-width="1"/>
<rect x="414.1" y="264.9" width="9.5" height="60" fill="#9a9a9a" stroke="#000" stroke-width="1"/>
<line x1="435.4" y1="322.3" x2="435.4" y2="323" stroke="#000" stroke-width="1"/>
<line x1="432.49" y1="322.3" x2="438.31" y2="322.3" stroke="#000" stroke-width="1"/>
<rect x="430.6" y="323.5" width="9.6" height="1.4" fill="#bcbcbc" stroke="#000" stroke-width="1"/>
<text x="367.8" y="338.4" font-size="8.4" text-anchor="middle">0</text>
<text x="384" y="338.4" font-size="8.4" text-anchor="middle">1</text>
<text x="401.6" y="338.4" font-size="8.4" text-anchor="middle">10</text>
<text x="418.3" y="338.4" font-size="8.4" text-anchor="middle">50</text>
<text x="435" y="338.4" font-size="8.4" text-anchor="middle">50</text>
<text x="402.6" y="349.2" font-size="8.4" text-anchor="middle">[Ryanodine] (µM)</text>
<text x="330.5" y="261.6" font-size="8.4" text-anchor="middle" transform="rotate(-90 330.5 261.6)">Δ [Ca<tspan font-size="5.71" dy="-4.37">2+</tspan><tspan dy="4.37">]</tspan><tspan font-size="5.21" dy="2.1">i</tspan><tspan dy="-2.1"> (nM)</tspan></text>
<text x="452.1" y="183.3" font-size="16">F</text>
<text x="539.5" y="189.2" font-size="8.4" font-weight="bold" text-anchor="middle">2 Ca<tspan font-size="5.71" dy="-4.37">2+</tspan></text>
<line x1="510.7" y1="192.7" x2="562" y2="192.7" stroke="#000" stroke-width="1.5"/>
<line x1="483.8" y1="197.4" x2="483.8" y2="323.9" stroke="#000" stroke-width="1.5"/>
<line x1="481.6" y1="197.9" x2="483.8" y2="197.9" stroke="#000" stroke-width="1"/>
<text x="479" y="200.4" font-size="7" text-anchor="end">400</text>
<line x1="481.6" y1="227.23" x2="483.8" y2="227.23" stroke="#000" stroke-width="1"/>
<text x="479" y="229.73" font-size="7" text-anchor="end">300</text>
<line x1="481.6" y1="256.56" x2="483.8" y2="256.56" stroke="#000" stroke-width="1"/>
<text x="479" y="259.06" font-size="7" text-anchor="end">200</text>
<line x1="481.6" y1="285.89" x2="483.8" y2="285.89" stroke="#000" stroke-width="1"/>
<text x="479" y="288.39" font-size="7" text-anchor="end">100</text>
<line x1="481.6" y1="315.22" x2="483.8" y2="315.22" stroke="#000" stroke-width="1"/>
<text x="479" y="317.72" font-size="7" text-anchor="end">0</text>
<line x1="483.1" y1="323.9" x2="560.5" y2="323.9" stroke="#000" stroke-width="1.5"/>
<line x1="483.8" y1="323.9" x2="483.8" y2="326.1" stroke="#000" stroke-width="1"/>
<text x="483.8" y="335.9" font-size="7" text-anchor="middle">0</text>
<line x1="509.13" y1="323.9" x2="509.13" y2="326.1" stroke="#000" stroke-width="1"/>
<text x="509.13" y="335.9" font-size="7" text-anchor="middle">100</text>
<line x1="534.46" y1="323.9" x2="534.46" y2="326.1" stroke="#000" stroke-width="1"/>
<text x="534.46" y="335.9" font-size="7" text-anchor="middle">200</text>
<line x1="559.79" y1="323.9" x2="559.79" y2="326.1" stroke="#000" stroke-width="1"/>
<text x="559.79" y="335.9" font-size="7" text-anchor="middle">300</text>
<text x="526.2" y="347.8" font-size="8.4" text-anchor="middle">Time (s)</text>
<text x="462.2" y="260.9" font-size="8.4" text-anchor="middle" transform="rotate(-90 462.2 260.9)">Δ [Ca<tspan font-size="5.71" dy="-4.37">2+</tspan><tspan dy="4.37">]</tspan><tspan font-size="5.21" dy="2.1">i</tspan><tspan dy="-2.1"> (nM)</tspan></text>
<line x1="492.5" y1="203.4" x2="511.8" y2="203.4" stroke="#353535" stroke-width="1.6"/>
<text x="516.4" y="206.4" font-size="8.4" font-weight="bold">5 mM caffeine</text>
<line x1="492.5" y1="214.35" x2="511.8" y2="214.35" stroke="#4a4a4a" stroke-width="1.6"/>
<text x="516.4" y="217.35" font-size="8.4" font-weight="bold">+ 1 µM Ry</text>
<line x1="492.5" y1="225.3" x2="511.8" y2="225.3" stroke="#6a6a6a" stroke-width="1.6"/>
<text x="516.4" y="228.3" font-size="8.4" font-weight="bold">+ 10 µM Ry</text>
<line x1="492.5" y1="236.25" x2="511.8" y2="236.25" stroke="#888888" stroke-width="1.6"/>
<text x="516.4" y="239.25" font-size="8.4" font-weight="bold">+ 50 µM Ry</text>
<line x1="492.5" y1="247.2" x2="511.8" y2="247.2" stroke="#aaaaaa" stroke-width="1.6"/>
<text x="516.4" y="250.2" font-size="8.4" font-weight="bold">50 µM Ry</text>
<polyline points="484.5,315.05 485.55,314.62 486.6,315.31 487.65,314.85 488.7,315.5 489.75,315.28 490.8,315 491.85,314.88 492.9,315.02 493.95,315.39 495,315.48 496,314.92 497,314.85 498,315.23 499,315.25 500,315.05 501,314.87 502,315.18 503,314.62 504,314.85 505,314.96 506,315.34 507,314.98 508,315.12 509,314.7 509,312.96 510,311.91 511,311.26 512,311.74 513.3,310.86 514.6,309.76 515.9,308.83 516.9,309.45 517.9,309.58 518.9,309.02 519.9,308.61 520.9,309.12 521.9,309.38 522.9,308.11 523.9,307.65 525.03,308.06 526.16,308.1 527.29,308.43 528.41,307.57 529.54,308.45 530.67,308.27 531.8,307.81 532.8,307.27 533.8,308.43 534.8,307.31 535.8,308.06 536.8,307.06 537.8,306.98 538.8,307.78 539.8,306.97 540.93,307.89 542.06,307.04 543.19,306.41 544.31,306.34 545.44,306.52 546.57,306.79 547.7,307.12 548.78,305.75 549.86,306.07 550.95,305.7 552.03,306.83 553.11,305.42 554.19,305.19 555.27,305.12 556.35,305.57 557.44,306.3 558.52,306.2 559.6,305.5" fill="none" stroke="#353535" stroke-width="1.6" stroke-linejoin="round"/>
<polyline points="484.5,315.21 485.55,315.48 486.6,315.45 487.65,314.94 488.7,314.84 489.75,315.54 490.8,315.4 491.85,314.79 492.9,315.39 493.95,315.16 495,315.19 496,315.12 497,314.94 498,314.76 499,314.98 500,315.02 501,315.53 502,314.75 503,315.48 504,314.77 505,314.87 506,315.21 507,315.14 508,314.71 509,314.7 509,313.18 510,312.91 511,312.28 512,312.09 513.3,311.12 514.6,310.77 515.9,310.68 516.9,309.92 517.9,310.04 518.9,310.17 519.9,309.99 520.9,309.33 521.9,309.17 522.9,309.04 523.9,309.49 525.03,308.93 526.16,309.17 527.29,309.18 528.41,308.69 529.54,308.54 530.67,308.92 531.8,308.58 532.8,308.26 533.8,308.5 534.8,308.15 535.8,308.04 536.8,307.78 537.8,308.23 538.8,308.27 539.8,307.99 540.93,308.07 542.06,307.28 543.19,307.29 544.31,307.31 545.44,307.51 546.57,307.36 547.7,306.82 548.78,306.63 549.86,306.67 550.95,306.62 552.03,306.84 553.11,306.22 554.19,306.57 555.27,306.43 556.35,306.4 557.44,306.27 558.52,306.07 559.6,305.9" fill="none" stroke="#b8b8b8" stroke-width="1.6" stroke-linejoin="round"/>
<polyline points="484.5,314.85 485.55,314.87 486.6,314.94 487.65,315.34 488.7,314.74 489.75,314.88 490.8,315.41 491.85,314.98 492.9,314.85 493.95,314.85 495,315.35 496,315.11 497,315.67 498,315.56 499,315.62 500,314.94 501,314.75 502,314.73 503,315.06 504,315.22 505,314.95 506,314.69 507,314.78 508,314.88 509,314.7 509,313.19 510.45,311.07 511.9,308.98 512.9,307.81 513.9,306.23 514.9,306.05 515.9,304.47 516.9,304.12 517.9,303.26 518.9,303.01 519.9,301.77 520.9,301.12 521.9,300.42 522.9,299.62 523.9,299.72 525.2,298.19 526.5,296.71 527.8,295.59 528.8,295.34 529.8,293.91 530.8,292.7 531.8,292.44 532.8,291.69 533.8,291.49 534.8,289.94 535.8,289.77 536.8,290.25 537.8,290.37 538.8,290.56 539.8,289.69 540.93,289.92 542.06,289.67 543.19,289.69 544.31,290.49 545.44,290.01 546.57,290.33 547.7,289.66 548.78,290.17 549.86,289.67 550.95,289.43 552.03,289.96 553.11,290.11 554.19,289.15 555.27,289.65 556.35,289.64 557.44,289.16 558.52,289.29 559.6,289.4" fill="none" stroke="#4a4a4a" stroke-width="1.6" stroke-linejoin="round"/>
<polyline points="484.5,314.68 485.55,314.76 486.6,314.84 487.65,315.18 488.7,315.26 489.75,314.88 490.8,314.74 491.85,315.05 492.9,315.4 493.95,314.99 495,315.13 496,315 497,315.51 498,315.25 499,314.79 500,314.79 501,315.03 502,315.14 503,315.19 504,314.66 505,314.7 506,315.1 507,314.77 508,314.58 509,314.7 509,312.79 510.45,310.85 511.9,307.49 512.9,305.27 513.9,302.54 514.9,300.11 515.9,298.1 516.9,296.52 517.9,294.1 518.9,292.19 519.9,291.05 520.9,288.97 521.9,287.26 522.9,286.74 523.9,284.72 525.2,283.82 526.5,282.03 527.8,281.22 528.8,280.01 529.8,278.93 530.8,278.02 531.8,277.86 532.8,277.5 533.8,277.35 534.8,276 535.8,276.13 536.8,275.58 537.8,275.45 538.8,274.79 539.8,274.66 540.93,274.72 542.06,274.97 543.19,273.87 544.31,274.09 545.44,274.24 546.57,274.21 547.7,273.17 548.7,273.16 549.7,274.12 550.7,274.22 551.7,273.75 552.7,273.34 553.7,274.37 554.88,273.86 556.06,274.5 557.24,274.27 558.42,274.58 559.6,274.3" fill="none" stroke="#6a6a6a" stroke-width="1.6" stroke-linejoin="round"/>
<polyline points="484.5,314.69 485.55,315.29 486.6,314.81 487.65,315 488.7,315.43 489.75,315.45 490.8,314.89 491.85,314.96 492.9,315.15 493.95,315.29 495,315.2 496,314.93 497,315.01 498,315.41 499,315.54 500,314.74 501,315.18 502,315.32 503,314.64 504,315.33 505,314.66 506,315.01 507,314.9 508,314.89 509,314.7 509,312.79 510.45,307.26 511.9,301.79 512.9,297.64 513.9,293.92 514.9,289.72 515.9,285.73 516.9,282.55 517.9,280.48 518.9,277.61 519.9,274.61 520.9,273.19 521.9,271.21 522.9,268.85 523.9,266.55 525.2,265.07 526.5,262.87 527.8,261.09 528.8,260.77 529.8,259.75 530.8,259.49 531.8,258.91 532.8,258.12 533.8,258.5 534.8,257.62 535.8,258.06 536.8,258.01 537.8,257.61 538.8,257.01 539.8,257.4 541.1,257.47 542.4,258.3 543.7,257.6 544.7,258.62 545.7,259 546.7,258.93 547.7,259.25 548.7,258.8 549.7,259.9 550.7,259.59 551.7,260.34 552.7,260.52 553.7,259.93 554.88,261.14 556.06,261.81 557.24,261.38 558.42,262.22 559.6,262.9" fill="none" stroke="#888888" stroke-width="1.6" stroke-linejoin="round"/>
<text x="638" y="190.6" font-size="8.4" font-weight="bold" text-anchor="middle">Peak</text>
<text x="635" y="204.7" font-size="8.4" font-weight="bold" text-anchor="middle">5 mM caffeine</text>
<line x1="606.9" y1="206.5" x2="663.1" y2="206.5" stroke="#000" stroke-width="0.9"/>
<line x1="602.5" y1="197.1" x2="602.5" y2="324.1" stroke="#000" stroke-width="1.5"/>
<line x1="600.3" y1="197.6" x2="602.5" y2="197.6" stroke="#000" stroke-width="1"/>
<text x="597.7" y="200.1" font-size="7" text-anchor="end">250</text>
<line x1="600.3" y1="222.9" x2="602.5" y2="222.9" stroke="#000" stroke-width="1"/>
<text x="597.7" y="225.4" font-size="7" text-anchor="end">200</text>
<line x1="600.3" y1="248.2" x2="602.5" y2="248.2" stroke="#000" stroke-width="1"/>
<text x="597.7" y="250.7" font-size="7" text-anchor="end">150</text>
<line x1="600.3" y1="273.5" x2="602.5" y2="273.5" stroke="#000" stroke-width="1"/>
<text x="597.7" y="276" font-size="7" text-anchor="end">100</text>
<line x1="600.3" y1="298.8" x2="602.5" y2="298.8" stroke="#000" stroke-width="1"/>
<text x="597.7" y="301.3" font-size="7" text-anchor="end">50</text>
<line x1="600.3" y1="324.1" x2="602.5" y2="324.1" stroke="#000" stroke-width="1"/>
<text x="597.7" y="326.6" font-size="7" text-anchor="end">0</text>
<line x1="601.8" y1="324.1" x2="679.5" y2="324.1" stroke="#000" stroke-width="1.5"/>
<line x1="613.25" y1="324.1" x2="613.25" y2="326.3" stroke="#000" stroke-width="1"/>
<line x1="626.75" y1="324.1" x2="626.75" y2="326.3" stroke="#000" stroke-width="1"/>
<line x1="640.6" y1="324.1" x2="640.6" y2="326.3" stroke="#000" stroke-width="1"/>
<line x1="654.45" y1="324.1" x2="654.45" y2="326.3" stroke="#000" stroke-width="1"/>
<line x1="668.2" y1="324.1" x2="668.2" y2="326.3" stroke="#000" stroke-width="1"/>
<line x1="613.25" y1="302.1" x2="613.25" y2="305.1" stroke="#000" stroke-width="1"/>
<line x1="610.38" y1="302.1" x2="616.12" y2="302.1" stroke="#000" stroke-width="1"/>
<rect x="609.4" y="305.6" width="7.7" height="18.5" fill="#303030" stroke="#000" stroke-width="1"/>
<line x1="626.75" y1="272.3" x2="626.75" y2="276.4" stroke="#000" stroke-width="1"/>
<line x1="623.81" y1="272.3" x2="629.69" y2="272.3" stroke="#000" stroke-width="1"/>
<rect x="622.8" y="276.9" width="7.9" height="47.2" fill="#555555" stroke="#000" stroke-width="1"/>
<line x1="640.6" y1="243" x2="640.6" y2="250.3" stroke="#000" stroke-width="1"/>
<line x1="637.83" y1="243" x2="643.37" y2="243" stroke="#000" stroke-width="1"/>
<rect x="636.9" y="250.8" width="7.4" height="73.3" fill="#787878" stroke="#000" stroke-width="1"/>
<line x1="654.45" y1="214.9" x2="654.45" y2="221.2" stroke="#000" stroke-width="1"/>
<line x1="651.91" y1="214.9" x2="656.99" y2="214.9" stroke="#000" stroke-width="1"/>
<rect x="651.1" y="221.7" width="6.7" height="102.4" fill="#9a9a9a" stroke="#000" stroke-width="1"/>
<line x1="668.2" y1="306.6" x2="668.2" y2="309.2" stroke="#000" stroke-width="1"/>
<line x1="665.23" y1="306.6" x2="671.17" y2="306.6" stroke="#000" stroke-width="1"/>
<rect x="664.2" y="309.7" width="8" height="14.4" fill="#bcbcbc" stroke="#000" stroke-width="1"/>
<text x="613.7" y="338.5" font-size="8.4" text-anchor="middle">0</text>
<text x="626.1" y="338.5" font-size="8.4" text-anchor="middle">1</text>
<text x="640.6" y="338.5" font-size="8.4" text-anchor="middle">10</text>
<text x="654.3" y="338.5" font-size="8.4" text-anchor="middle">50</text>
<text x="668.6" y="338.5" font-size="8.4" text-anchor="middle">50</text>
<text x="642.8" y="349.2" font-size="8.4" text-anchor="middle">[Ryanodine] (µM)</text>
<text x="582" y="260.5" font-size="8.4" text-anchor="middle" transform="rotate(-90 582 260.5)">Δ [Ca<tspan font-size="5.71" dy="-4.37">2+</tspan><tspan dy="4.37">]</tspan><tspan font-size="5.21" dy="2.1">i</tspan><tspan dy="-2.1"> (nM)</tspan></text>
<text x="719.4" y="190.9" font-size="8.4" font-weight="bold" text-anchor="middle">Rate of change</text>
<text x="717.2" y="205" font-size="8.4" font-weight="bold" text-anchor="middle">5 mM caffeine</text>
<line x1="689.4" y1="206.7" x2="745" y2="206.7" stroke="#000" stroke-width="0.9"/>
<line x1="684.4" y1="323.9" x2="763" y2="323.9" stroke="#000" stroke-width="1.5"/>
<line x1="696.4" y1="323.9" x2="696.4" y2="326.1" stroke="#000" stroke-width="1"/>
<line x1="710" y1="323.9" x2="710" y2="326.1" stroke="#000" stroke-width="1"/>
<line x1="723.65" y1="323.9" x2="723.65" y2="326.1" stroke="#000" stroke-width="1"/>
<line x1="737.55" y1="323.9" x2="737.55" y2="326.1" stroke="#000" stroke-width="1"/>
<line x1="751.35" y1="323.9" x2="751.35" y2="326.1" stroke="#000" stroke-width="1"/>
<line x1="762.3" y1="197.2" x2="762.3" y2="323.9" stroke="#000" stroke-width="1.5"/>
<line x1="762.3" y1="197.7" x2="764.5" y2="197.7" stroke="#000" stroke-width="1"/>
<text x="766.3" y="200.2" font-size="7">8</text>
<line x1="762.3" y1="229.25" x2="764.5" y2="229.25" stroke="#000" stroke-width="1"/>
<text x="766.3" y="231.75" font-size="7">6</text>
<line x1="762.3" y1="260.8" x2="764.5" y2="260.8" stroke="#000" stroke-width="1"/>
<text x="766.3" y="263.3" font-size="7">4</text>
<line x1="762.3" y1="292.35" x2="764.5" y2="292.35" stroke="#000" stroke-width="1"/>
<text x="766.3" y="294.85" font-size="7">2</text>
<line x1="762.3" y1="323.9" x2="764.5" y2="323.9" stroke="#000" stroke-width="1"/>
<text x="766.3" y="326.4" font-size="7">0</text>
<line x1="696.4" y1="303.3" x2="696.4" y2="309.2" stroke="#000" stroke-width="1"/>
<line x1="693.43" y1="303.3" x2="699.37" y2="303.3" stroke="#000" stroke-width="1"/>
<rect x="692.4" y="309.7" width="8" height="14.2" fill="#303030" stroke="#000" stroke-width="1"/>
<line x1="710" y1="286.4" x2="710" y2="292" stroke="#000" stroke-width="1"/>
<line x1="707.03" y1="286.4" x2="712.97" y2="286.4" stroke="#000" stroke-width="1"/>
<rect x="706" y="292.5" width="8" height="31.4" fill="#555555" stroke="#000" stroke-width="1"/>
<line x1="723.65" y1="255" x2="723.65" y2="262.5" stroke="#000" stroke-width="1"/>
<line x1="720.65" y1="255" x2="726.65" y2="255" stroke="#000" stroke-width="1"/>
<rect x="719.6" y="263" width="8.1" height="60.9" fill="#787878" stroke="#000" stroke-width="1"/>
<line x1="737.55" y1="234.5" x2="737.55" y2="244.3" stroke="#000" stroke-width="1"/>
<line x1="734.75" y1="234.5" x2="740.35" y2="234.5" stroke="#000" stroke-width="1"/>
<rect x="733.8" y="244.8" width="7.5" height="79.1" fill="#9a9a9a" stroke="#000" stroke-width="1"/>
<line x1="751.35" y1="316.6" x2="751.35" y2="319.3" stroke="#000" stroke-width="1"/>
<line x1="748.48" y1="316.6" x2="754.22" y2="316.6" stroke="#000" stroke-width="1"/>
<rect x="747.5" y="319.8" width="7.7" height="4.1" fill="#bcbcbc" stroke="#000" stroke-width="1"/>
<text x="696" y="338.5" font-size="8.4" text-anchor="middle">0</text>
<text x="710.2" y="338.5" font-size="8.4" text-anchor="middle">1</text>
<text x="725.3" y="338.5" font-size="8.4" text-anchor="middle">10</text>
<text x="739.9" y="338.5" font-size="8.4" text-anchor="middle">50</text>
<text x="752.8" y="338.5" font-size="8.4" text-anchor="middle">50</text>
<text x="727.9" y="349.2" font-size="8.4" text-anchor="middle">[Ryanodine] (µM)</text>
<text x="785.9" y="261" font-size="8.4" text-anchor="middle" transform="rotate(-90 785.9 261)">Max rate of change in [Ca<tspan font-size="5.71" dy="-4.37">2+</tspan><tspan dy="4.37">]</tspan><tspan font-size="5.21" dy="2.1">i</tspan><tspan dy="-2.1"> (nM/s)</tspan></text>
</svg></body></html>
